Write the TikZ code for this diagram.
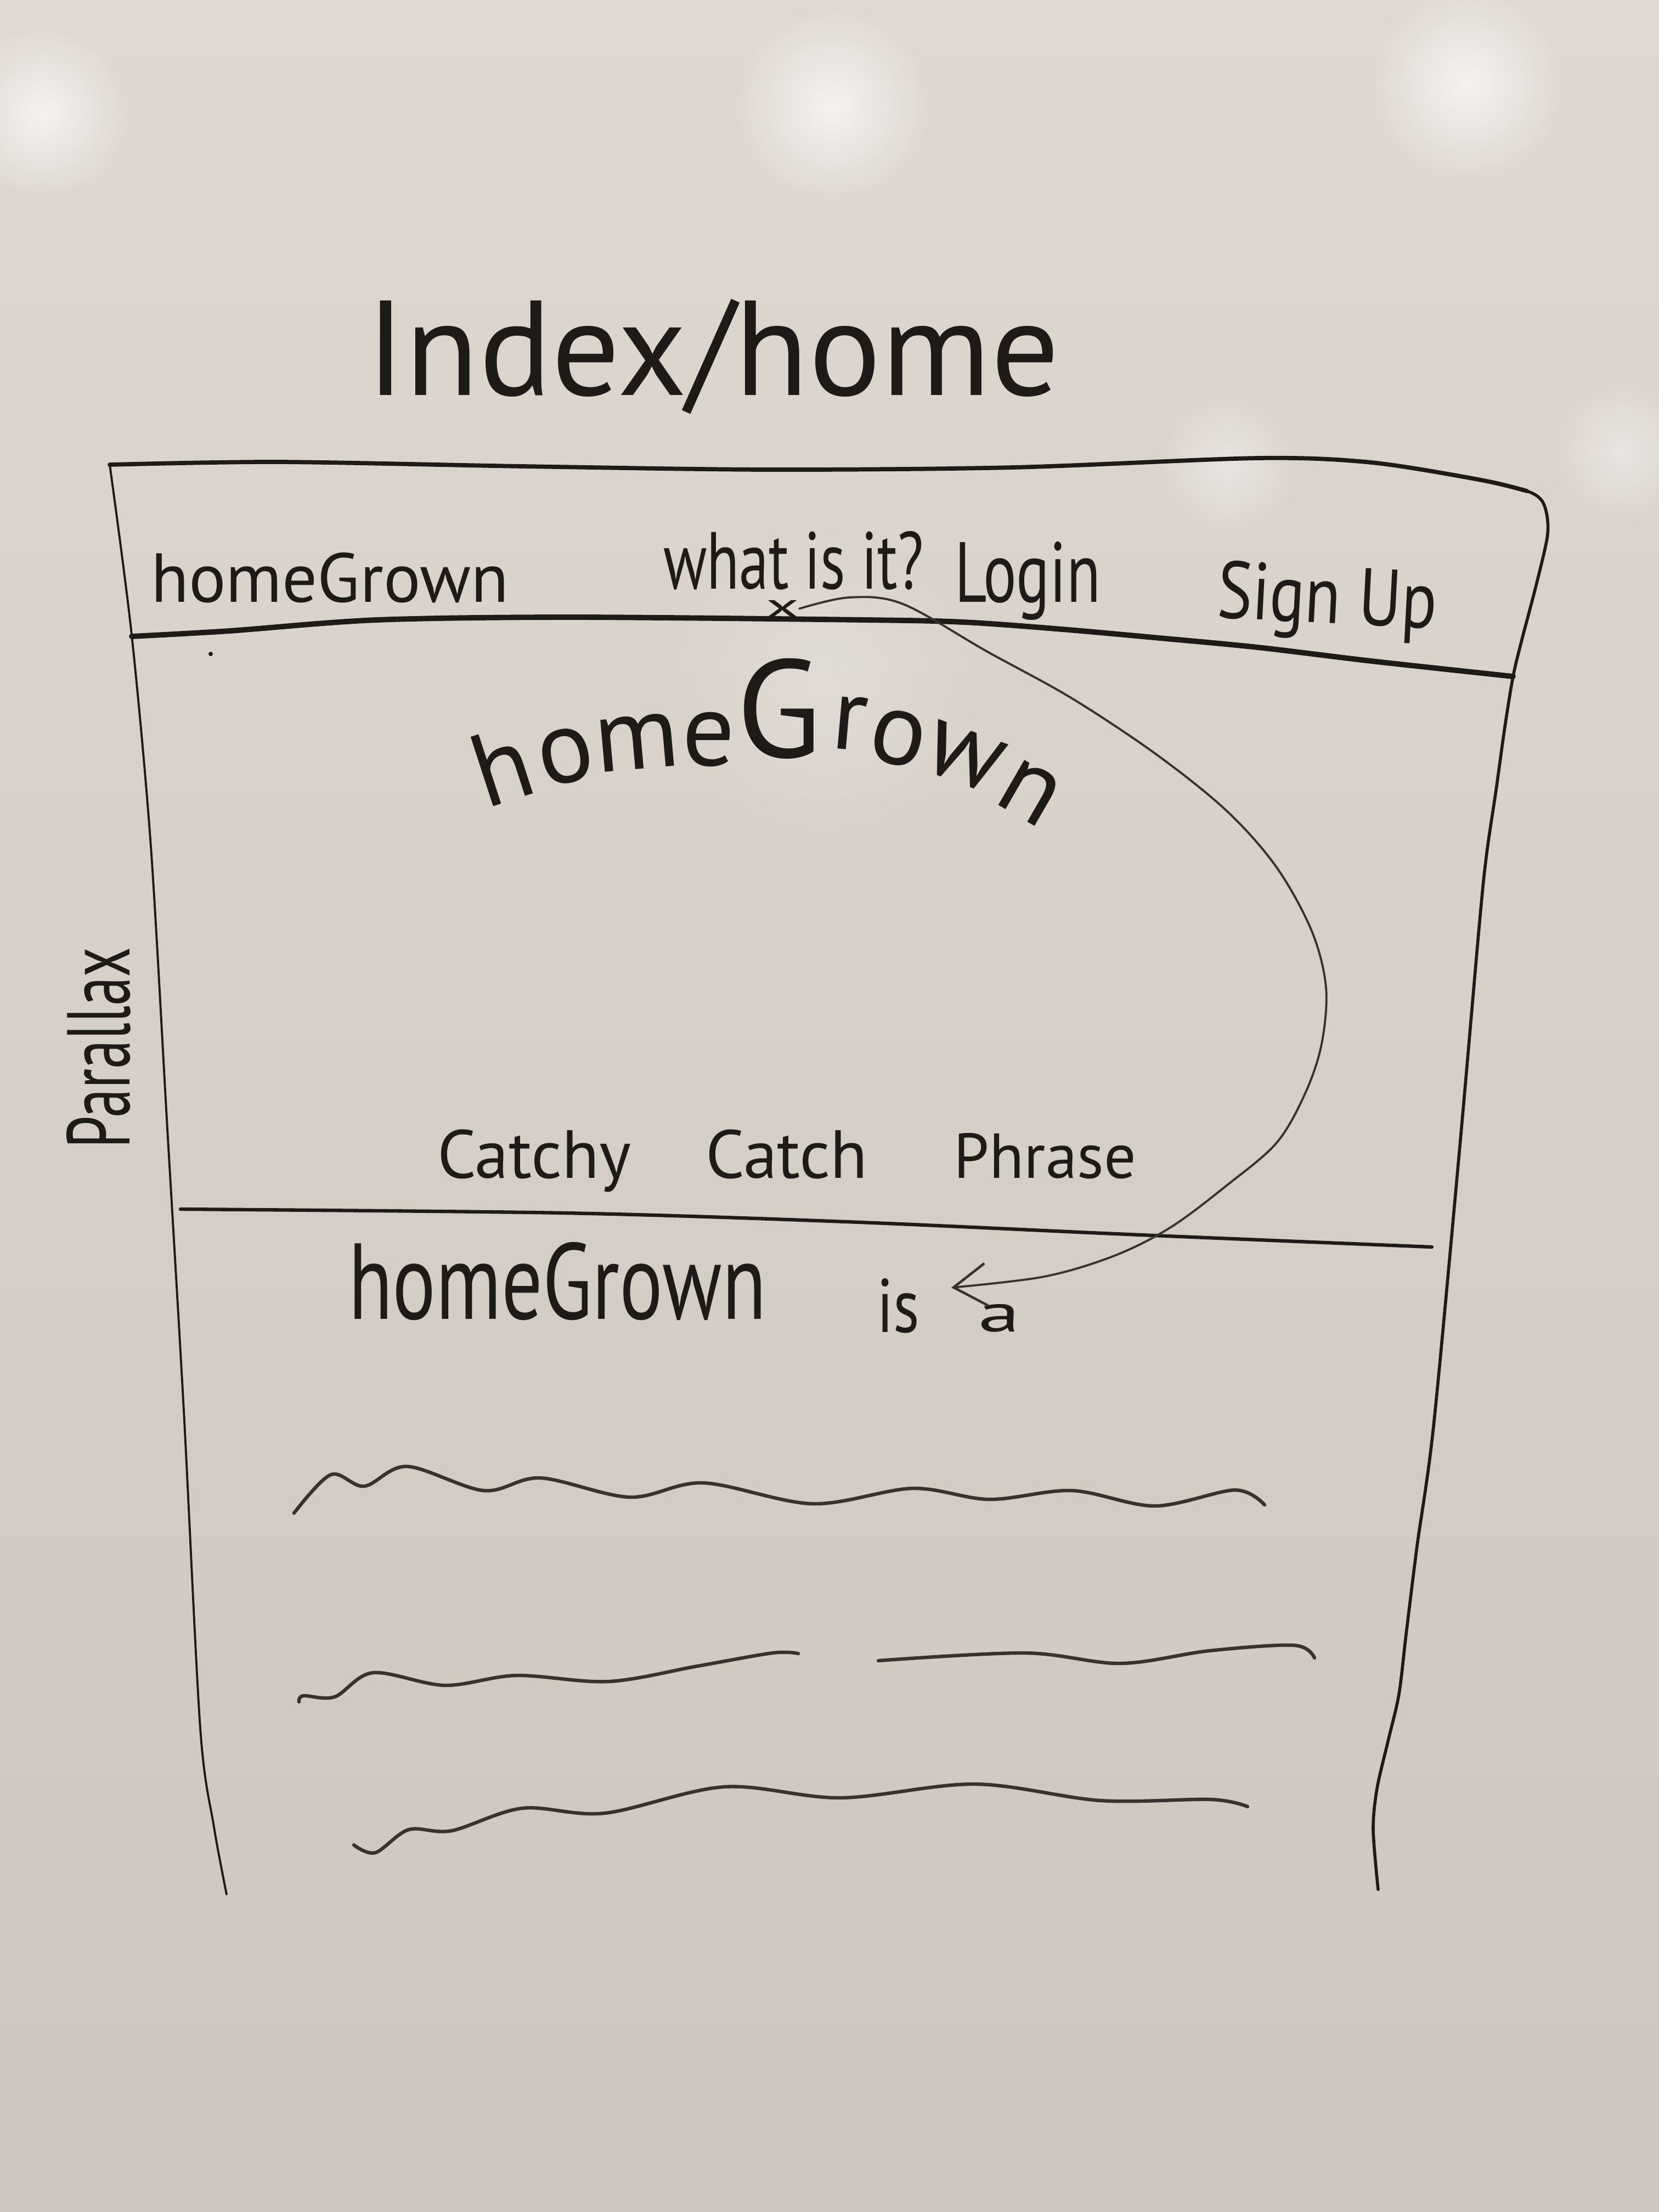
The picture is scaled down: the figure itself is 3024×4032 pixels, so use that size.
\documentclass[tikz,border=0pt]{standalone}
\usepackage{fontspec}
\setmainfont{PT Sans}
\usepackage{graphicx}
\usetikzlibrary{arrows.meta,fadings}

\definecolor{inkc}{RGB}{30,26,24}
\definecolor{penc}{RGB}{56,50,47}
\definecolor{boardtop}{RGB}{222,216,208}
\definecolor{boardbot}{RGB}{205,198,190}

% word scaled to a given width (and optionally height)
\newcommand{\handw}[2]{\resizebox{#1}{!}{#2}}
\newcommand{\handwh}[3]{\resizebox{#1}{#2}{#3}}

\tikzfading[name=glow, inner color=transparent!0, outer color=transparent!100]

\begin{document}
\begin{tikzpicture}[x=0.01cm, y=-0.01cm,
  stroke/.style={draw=inkc, line cap=round, line join=round},
  heavy/.style={stroke, line width=2.8pt},
  medium/.style={stroke, line width=1.8pt},
  fine/.style={stroke, line width=1.1pt},
  squiggle/.style={draw=penc, line width=1.8pt, line cap=round, line join=round},
  label/.style={inner sep=0pt, outer sep=0pt, text=inkc, anchor=base west},
  heroletter/.style={inner sep=0pt, outer sep=0pt, text=inkc, anchor=base, font=\fontsize{54}{54}\selectfont},
  glare/.style={fill=white, path fading=glow},
]
\useasboundingbox (0,0) rectangle (3024,4032);

% whiteboard surface with light reflections
\shade[top color=boardtop, bottom color=boardbot] (0,0) rectangle (3024,4032);
\fill[glare, opacity=0.7] (77,206) circle[radius=160];
\fill[glare, opacity=0.7] (1517,193) circle[radius=180];
\fill[glare, opacity=0.7] (2674,154) circle[radius=180];
\fill[glare, opacity=0.4] (2237,849) circle[radius=130];
\fill[glare, opacity=0.4] (2957,823) circle[radius=130];
\fill[glare, opacity=0.2] (1500,1250) circle[radius=300];

% page title
\node[label] (title) at (667,720) {\handw{12.63cm}{Index/home}};

% page frame: top edge running round the right corner into the right side
\draw[stroke, line width=2.2pt] plot[smooth, tension=0.5] coordinates {(200,847) (507,842) (954,850) (1400,856) (1846,852) (2293,835) (2500,843) (2700,875) (2783,895)};
\draw[medium, line width=1.6pt] plot[smooth, tension=0.5] coordinates {(2700,875) (2783,895) (2810,912) (2820,941) (2820,981) (2800,1067) (2773,1170) (2758,1233) (2743,1325) (2727,1440) (2710,1555) (2697,1680) (2660,2100) (2613,2600) (2583,2818) (2563,2979) (2550,3088) (2530,3174) (2510,3260) (2503,3335) (2512,3444)};
\draw[fine] plot[smooth, tension=0.5] coordinates {(200,847) (240,1157) (275,1543) (305,2057) (335,2571) (365,3150) (390,3330) (413,3453)};

% navigation bar
\draw[heavy] plot[smooth, tension=0.5] coordinates {(240,1160) (418,1150) (686,1130) (1043,1125) (1579,1130) (1757,1134) (1936,1147) (2114,1163) (2293,1180) (2500,1205) (2758,1233)};
\node[label] (brand) at (275,1097) {\handw{6.52cm}{homeGrown}};
\node[label] (about) at (1209,1073) {\handwh{4.74cm}{1.05cm}{what is it?}};
\node[label] (login) at (1740,1097) {\handwh{2.66cm}{1.1cm}{Login}};
\node[label, rotate=-3] (signup) at (2217,1125) {\handwh{4.0cm}{1.05cm}{Sign Up}};
\node[label] (xmark) at (1395,1125) {\handwh{0.62cm}{0.31cm}{x}};
\fill[inkc] (384,1192) circle[radius=4];

% hero banner: the brand name written on an arc
\node[heroletter, rotate=18]  (hero1) at (935,1458) {h};
\node[heroletter, rotate=12]  (hero2) at (1041,1425) {o};
\node[heroletter, rotate=5]   (hero3) at (1165,1402) {m};
\node[heroletter]             (hero4) at (1292,1395) {e};
\node[heroletter, font=\fontsize{72}{72}\selectfont] (hero5) at (1420,1380) {G};
\node[heroletter, rotate=-5]  (hero6) at (1545,1366) {r};
\node[heroletter, rotate=-12] (hero7) at (1627,1392) {o};
\node[heroletter, rotate=-20] (hero8) at (1742,1423) {w};
\node[heroletter, rotate=-30] (hero9) at (1852,1486) {n};

\node[label] (tagline) at (797,2147) {\handw{3.53cm}{Catchy}\hspace{1.36cm}\handw{2.95cm}{Catch}\hspace{1.57cm}\handw{3.32cm}{Phrase}};
\node[label, rotate=90] (parallax) at (236,2093) {\handwh{3.66cm}{1.15cm}{Parallax}};

% divider below the banner
\draw[medium] plot[smooth, tension=0.5] coordinates {(329,2204) (1029,2211) (1543,2227) (2057,2250) (2610,2273)};

% about section
\node[label] (about2) at (635,2404) {\handwh{7.61cm}{1.4cm}{homeGrown}};
\node[label] (isword) at (1598,2428) {\handwh{0.78cm}{0.98cm}{is}};
\node[label] (aword) at (1783,2427) {\handwh{0.76cm}{0.5cm}{a}};

% link from the nav item to the about section
\coordinate (tip) at (1734,2347);
\draw[fine, draw=penc, -{Straight Barb[length=17pt,width=22pt,line width=1.3pt]}]
  plot[smooth, tension=0.55] coordinates {(xmark.east) (1548,1089) (1646,1101) (1800,1188) (1954,1273) (2109,1376) (2237,1479) (2327,1581) (2391,1697) (2417,1800) (2409,1903) (2379,1993) (2327,2083) (2237,2160) (2134,2237) (2031,2289) (1903,2327) (tip)};

% placeholder body text
\draw[squiggle] plot[smooth, tension=0.55] coordinates {(536,2758) (603,2688) (664,2709) (742,2673) (882,2717) (985,2694) (1148,2729) (1282,2703) (1481,2741) (1663,2713) (1803,2733) (1954,2717) (2105,2745) (2251,2716) (2305,2743)};
\draw[squiggle] plot[smooth, tension=0.55] coordinates {(545,3102) (553,3091) (610,3093) (680,3049) (811,3072) (941,3054) (1109,3065) (1271,3037) (1408,3013) (1455,3014)};
\draw[squiggle] plot[smooth, tension=0.55] coordinates {(1601,3027) (1868,3013) (2042,3032) (2204,3009) (2359,2999) (2396,3022)};
\draw[squiggle] plot[smooth, tension=0.55] coordinates {(645,3363) (684,3377) (745,3335) (823,3337) (952,3296) (1102,3305) (1320,3257) (1532,3277) (1777,3252) (2006,3282) (2207,3280) (2274,3293)};
\end{tikzpicture}
\end{document}
